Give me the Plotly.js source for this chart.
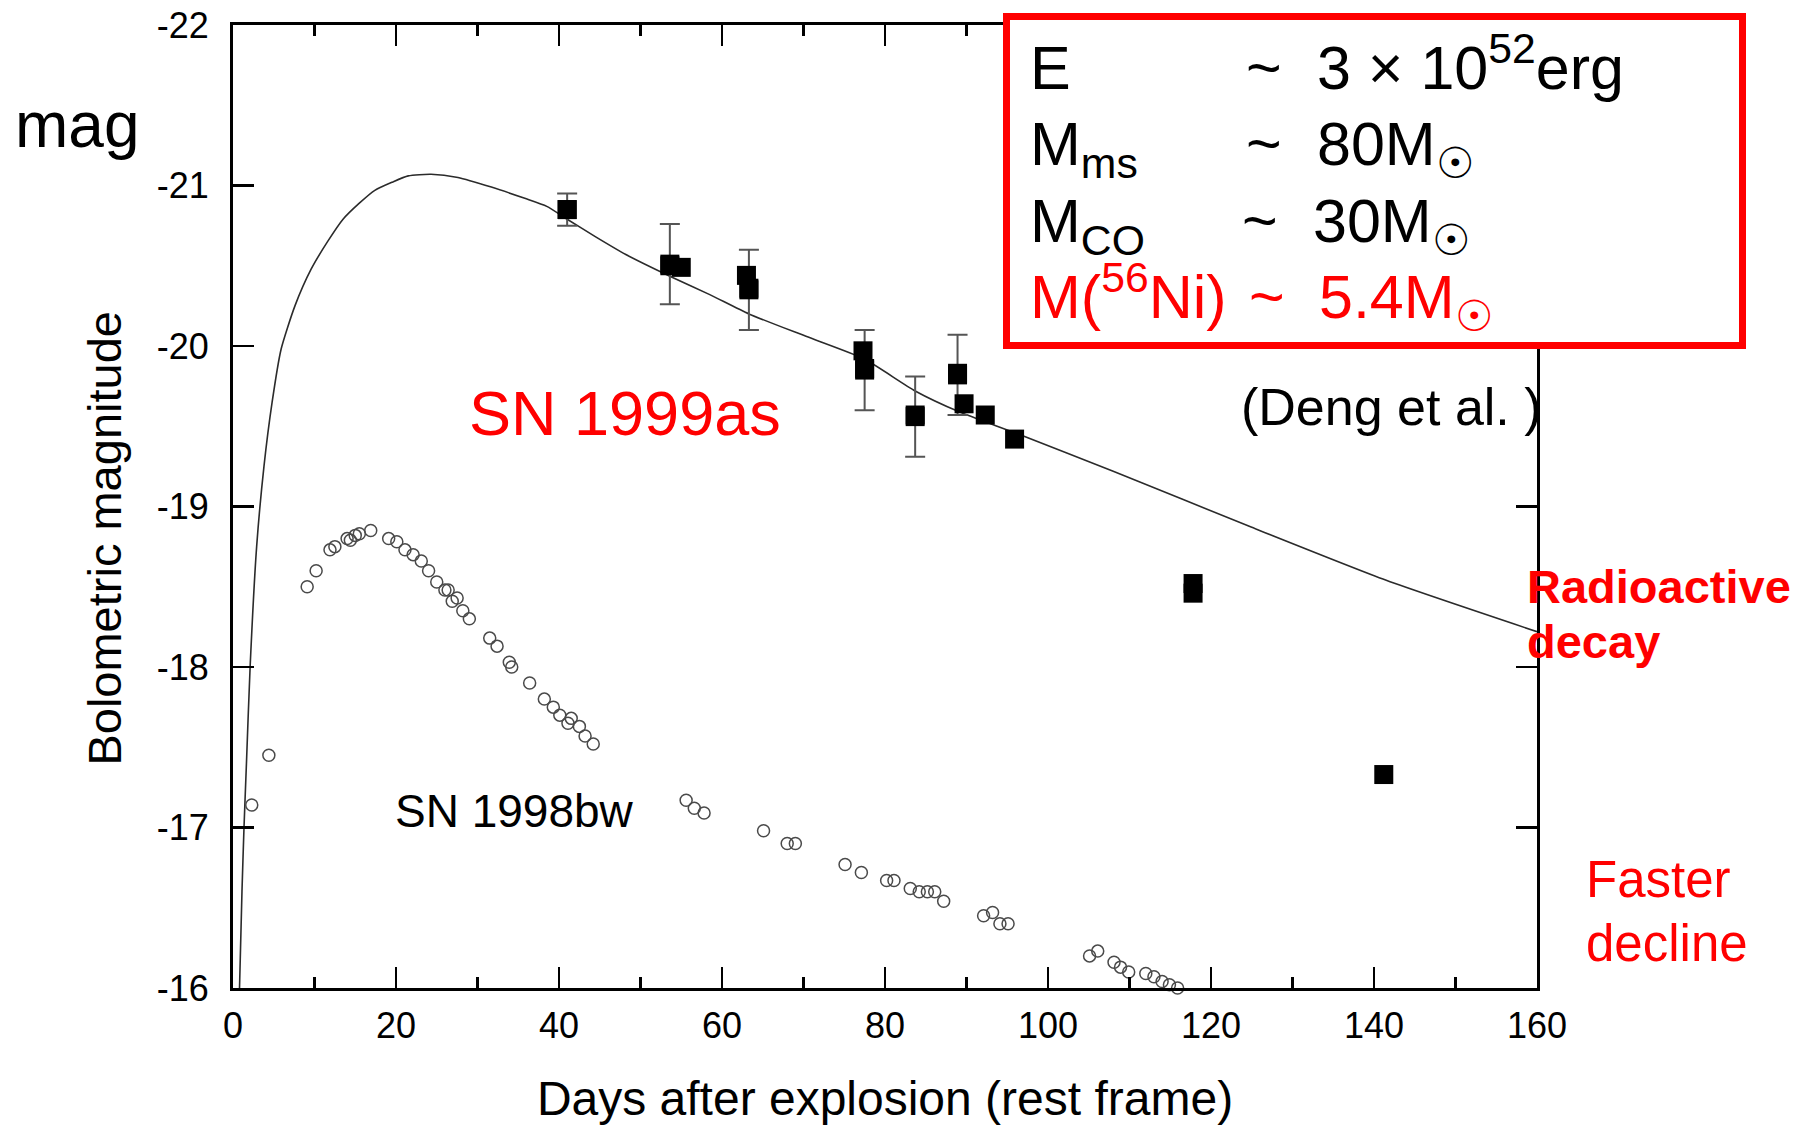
<!DOCTYPE html>
<html>
<head>
<meta charset="utf-8">
<script src="https://cdn.plot.ly/plotly-3.0.1.min.js"></script>
<style>
html, body { margin: 0; padding: 0; background: #ffffff; }
#chart { width: 1799px; height: 1125px; }
</style>
</head>
<body>
<div id="chart"></div>
<script>
// ---------- DATA ----------
// SN 1999as observed bolometric magnitudes (filled squares)
const sn1999asDays = [41.0, 53.6, 55.0, 63.0, 63.3, 77.3, 77.5, 83.7, 88.9, 89.7, 92.3, 95.9, 117.8, 117.8, 141.2];
const sn1999asMag  = [-20.85, -20.50, -20.49, -20.44, -20.36, -19.97, -19.86, -19.57, -19.83, -19.64, -19.57, -19.42, -18.52, -18.46, -17.33];

// SN 1999as points that carry error bars
const errDays = [41.0, 53.6, 63.3, 77.5, 83.7, 88.9];
const errMag  = [-20.85, -20.51, -20.35, -19.85, -19.56, -19.82];
const errSize = [0.10, 0.25, 0.25, 0.25, 0.25, 0.25];

// SN 1998bw light curve (open circles)
const sn1998bwDays = [2.3, 4.4, 9.1, 10.2, 11.9, 12.5, 14.0, 14.4, 15.0, 15.5, 16.9, 19.1, 20.1, 21.1, 22.1, 23.1, 24.0, 25.0, 26.0, 26.4, 26.9, 27.5, 28.2, 29.0, 31.5, 32.4, 33.9, 34.2, 36.4, 38.2, 39.3, 40.1, 41.1, 41.5, 42.5, 43.2, 44.2, 55.6, 56.6, 57.8, 65.1, 68.0, 69.0, 75.1, 77.1, 80.2, 81.1, 83.1, 84.2, 85.2, 86.1, 87.2, 92.1, 93.2, 94.1, 95.1, 105.1, 106.1, 108.1, 108.9, 109.9, 112.0, 113.0, 114.0, 114.9, 115.9];
const sn1998bwMag  = [-17.14, -17.45, -18.50, -18.60, -18.73, -18.75, -18.80, -18.79, -18.82, -18.83, -18.85, -18.80, -18.78, -18.73, -18.70, -18.66, -18.60, -18.53, -18.48, -18.48, -18.41, -18.43, -18.35, -18.30, -18.18, -18.13, -18.03, -18.00, -17.90, -17.80, -17.75, -17.70, -17.65, -17.68, -17.63, -17.57, -17.52, -17.17, -17.12, -17.09, -16.98, -16.90, -16.90, -16.77, -16.72, -16.67, -16.67, -16.62, -16.60, -16.60, -16.60, -16.54, -16.45, -16.47, -16.40, -16.40, -16.20, -16.23, -16.16, -16.13, -16.10, -16.09, -16.07, -16.04, -16.02, -16.00];

// Model light curve (solid line)
const modelDays = [0.75, 1.1, 1.35, 1.65, 2.1, 2.9, 3.8, 4.8, 5.9, 7.6, 9.6, 11.6, 13.5, 15.5, 17.4, 19.5, 21.5, 24.3, 27.6, 31.7, 35.8, 38.5, 41.0, 44.5, 48.2, 53.8, 58.5, 63.3, 70.3, 77.4, 83.7, 89.1, 95.9, 108.0, 125.0, 141.5, 160.0];
const modelMag  = [-15.9, -16.6, -17.0, -17.4, -18.0, -18.75, -19.25, -19.65, -19.98, -20.25, -20.48, -20.65, -20.79, -20.89, -20.97, -21.02, -21.06, -21.07, -21.05, -20.99, -20.92, -20.87, -20.79, -20.68, -20.57, -20.43, -20.32, -20.20, -20.06, -19.92, -19.72, -19.59, -19.46, -19.22, -18.87, -18.54, -18.22];

// Axis ticks
const xTickVals = [0, 20, 40, 60, 80, 100, 120, 140, 160];
const xTickText = ['0', '20', '40', '60', '80', '100', '120', '140', '160'];
const yTickVals = [-22, -21, -20, -19, -18, -17, -16];
const yTickText = ['-22', '-21', '-20', '-19', '-18', '-17', '-16'];

// Texts
const xTitle = 'Days after explosion (rest frame)';
const yTitle = 'Bolometric magnitude';

// ---------- LAYOUT HELPERS ----------
const W = 1799, H = 1125;
const ML = 233, MR = 262, MT = 25, MB = 137;
const PW = W - ML - MR, PH = H - MT - MB;
function px(x) { return (x - ML) / PW; }
function py(y) { return (H - MB - y) / PH; }

const FONT = 'Liberation Sans, Arial, Helvetica, sans-serif';
const RED = '#ff0000';

function ann(text, x, y, size, color, xanchor, extra) {
  return Object.assign({
    text: text, xref: 'paper', yref: 'paper', x: px(x), y: py(y),
    xanchor: xanchor || 'left', yanchor: 'middle', showarrow: false,
    font: { family: FONT, size: size, color: color || '#000000' }
  }, extra || {});
}

const F = 61;
const SUN = '☉';
const annotations = [
  // box rows
  ann('E', 1028, 67.8, F),
  ann('~', 1244, 67.8, F),
  ann('3 × 10<sup>52</sup>erg', 1315, 63.3, F),
  ann('M<sub>ms</sub>', 1028, 148.3, F),
  ann('~', 1244, 143.8, F),
  ann('80M<sub>' + SUN + '</sub>', 1315, 148.3, F),
  ann('M<sub>CO</sub>', 1028, 225.3, F),
  ann('~', 1240, 220.8, F),
  ann('30M<sub>' + SUN + '</sub>', 1311, 225.3, F),
  ann('M(<sup>56</sup>Ni)', 1028, 292.3, F, RED),
  ann('~', 1247, 296.8, F, RED),
  ann('5.4M<sub>' + SUN + '</sub>', 1317, 301.3, F, RED),
  // other labels
  ann('(Deng et al. )', 1239, 407.3, 52),
  ann('SN 1999as', 625, 413, 63, RED, 'center'),
  ann('SN 1998bw', 514, 810.7, 46, '#000000', 'center'),
  ann('<b>Radioactive</b>', 1525, 586.7, 47, RED),
  ann('<b>decay</b>', 1525, 641.7, 47, RED),
  ann('Faster', 1584, 879.3, 51, RED),
  ann('decline', 1584, 943, 51, RED),
  ann('mag', 13, 124.8, 64),
  // y-axis title (rotated)
  ann(yTitle, 103.6, 538, 47, '#000000', 'center', { textangle: -90 })
];

const shapes = [{
  type: 'rect', xref: 'paper', yref: 'paper', layer: 'above',
  x0: px(1006.5), x1: px(1742.5), y0: py(345.5), y1: py(16.5),
  line: { color: RED, width: 7 }, fillcolor: '#ffffff'
}];

const traces = [
  {
    type: 'scatter', mode: 'lines', x: modelDays, y: modelMag,
    line: { color: '#2b2b2b', width: 1.6, shape: 'spline', smoothing: 0.6 },
    hoverinfo: 'skip'
  },
  {
    type: 'scatter', mode: 'markers', x: sn1998bwDays, y: sn1998bwMag,
    marker: { symbol: 'circle-open', size: 12, color: '#4a4a4a', line: { width: 1.5 } },
    cliponaxis: false
  },
  {
    type: 'scatter', mode: 'markers', x: errDays, y: errMag,
    marker: { symbol: 'square', size: 19, color: '#000000' },
    error_y: { type: 'data', array: errSize, visible: true, color: '#555555', thickness: 2, width: 10 }
  },
  {
    type: 'scatter', mode: 'markers', x: sn1999asDays, y: sn1999asMag,
    marker: { symbol: 'square', size: 19, color: '#000000' }
  }
];

const axisCommon = {
  showline: true, linewidth: 3, linecolor: '#000000', mirror: 'allticks',
  ticks: 'inside', ticklen: 21, tickwidth: 2.5, tickcolor: '#000000',
  showgrid: false, zeroline: false, tickmode: 'array',
  tickfont: { family: FONT, size: 36, color: '#000000' }
};

const layout = {
  width: W, height: H,
  margin: { l: ML, r: MR, t: MT, b: MB, pad: 0 },
  paper_bgcolor: '#ffffff', plot_bgcolor: '#ffffff',
  showlegend: false,
  font: { family: FONT, color: '#000000' },
  xaxis: Object.assign({}, axisCommon, {
    range: [0, 160], tickvals: xTickVals, ticktext: xTickText,
    ticklabelstandoff: 4,
    minor: { tick0: 0, dtick: 10, ticks: 'inside', ticklen: 11, tickwidth: 2.5, tickcolor: '#000000', showgrid: false },
    title: { text: xTitle, font: { family: FONT, size: 48, color: '#000000' }, standoff: 54 }
  }),
  yaxis: Object.assign({}, axisCommon, {
    range: [-16, -22], tickvals: yTickVals, ticktext: yTickText,
    ticklabelstandoff: 14,
    title: { text: '' }
  }),
  annotations: annotations,
  shapes: shapes
};

Plotly.newPlot('chart', traces, layout, { displayModeBar: false, staticPlot: true });
</script>
</body>
</html>
